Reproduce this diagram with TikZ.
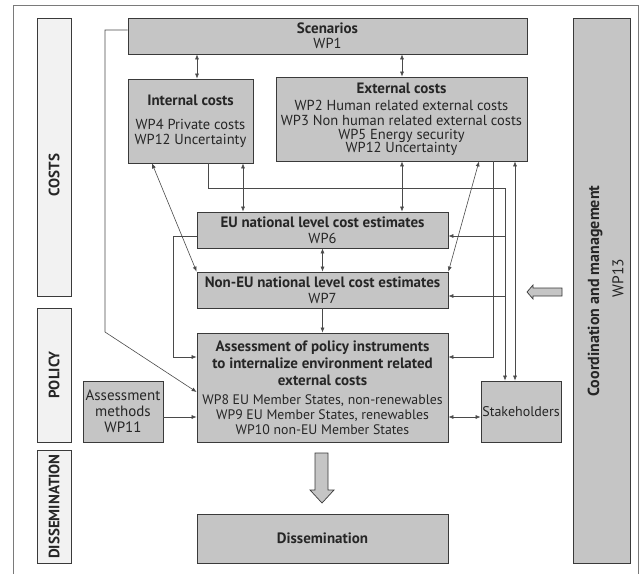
\documentclass[tikz,border=0pt]{standalone}
\usepackage{fontspec}
\setmainfont{PT Sans}
\usetikzlibrary{arrows.meta}
\definecolor{bd}{HTML}{3A3A3A}
\definecolor{boxgray}{HTML}{C5C5C5}
\definecolor{lightbg}{HTML}{F2F2F2}
\definecolor{ln}{HTML}{4A4A4A}
\definecolor{fr}{HTML}{7A7A7A}
\newcommand\fz[2]{\fontsize{#1}{#2}\selectfont}
\newcommand\bt[1]{{\fontsize{15}{15}\selectfont\bfseries #1}}
\newcommand\sm[1]{{\fontsize{13.8}{15}\selectfont #1}}
\begin{document}
\begin{tikzpicture}[x=1pt,y=-1pt,
  box/.style={draw=bd, fill=boxgray, line width=0.8pt, inner sep=0pt, align=center, text=black!85, font=\fz{14.5}{15}},
  lblbox/.style={draw=bd, fill=lightbg, line width=0.8pt, inner sep=0pt},
  conn/.style={draw=ln, line width=0.6pt},
  ah/.tip={Latex[length=5pt,width=4pt]},
  blk/.style={draw=bd, fill=boxgray, line width=0.7pt, line join=miter},
  ttl/.style={font=\fz{15}{15}\bfseries, text=black!85}
]
\useasboundingbox[fill=white] (0,0) rectangle (644,573);
\draw[fr, line width=0.9pt] (13,580) -- (13,5) -- (638,5) -- (638,580);

% side labels
\node[lblbox, minimum width=34pt, minimum height=278pt] (lcost) at (54,157) {};
\node[ttl, rotate=90] (tcost) at (54,175) {COSTS};
\node[lblbox, minimum width=34pt, minimum height=134pt] (lpol) at (54,375) {};
\node[ttl, rotate=90] (tpol) at (54,375) {POLICY};
\node[lblbox, minimum width=34pt, minimum height=113pt] (ldis) at (54,506.5) {};
\node[ttl, rotate=90] (tdis) at (54,506.5) {DISSEMINATION};

% main boxes
\node[box, minimum width=399pt, minimum height=36pt] (scen) at (327.5,36)
  {\bt{Scenarios}\\ WP1};
\node[box, minimum width=125pt, minimum height=84pt] (int) at (190.5,121)
  {\bt{Internal costs}\\[9pt] WP4 Private costs\\ WP12 Uncertainty};
\node[box, minimum width=251pt, minimum height=84pt] (ext) at (401.5,119)
  {\bt{External costs}\\[2pt] WP2 Human related external costs\\[0pt] WP3 Non human related external costs\\[-1.5pt] WP5 Energy security\\[-2pt] WP12 Uncertainty};
\node[box, minimum width=251pt, minimum height=36pt] (eu) at (322.5,230)
  {\bt{EU national level cost estimates}\\[1pt] WP6};
\node[box, minimum width=251pt, minimum height=36pt] (noneu) at (322.5,290)
  {\bt{Non-EU national level cost estimates}\\[1pt] WP7};
\node[box, minimum width=251pt, minimum height=109pt] (assess) at (322.5,387.5)
  {\bt{Assessment of policy instruments}\\[2pt] \bt{to internalize environment related}\\[2pt] \bt{external costs}\\[4pt] \sm{WP8 EU Member States, non-renewables}\\ \sm{WP9 EU Member States, renewables}\\ \sm{WP10 non-EU Member States}};
\node[box, minimum width=80pt, minimum height=61pt, font=\fz{15}{15.5}] (meth) at (123,411.5)
  {Assessment\\ methods\\[1pt] WP11};
\node[box, minimum width=80pt, minimum height=61pt, font=\fz{14}{14}] (stake) at (521,411.5)
  {Stakeholders};
\node[box, minimum width=251pt, minimum height=49pt] (dis) at (322.5,538.5)
  {\bt{Dissemination}};
\node[box, minimum width=57pt, minimum height=545pt] (coord) at (601.5,290.5) {};
\node[rotate=90, font=\fz{16}{16}\bfseries, text=black!85] (tcoord) at (595,291) {Coordination and management};
\node[rotate=90, font=\fz{15.5}{15.5}, text=black!85] (twp13) at (618,278) {WP13};

% guide coordinates
\coordinate (k1) at (105,332);
\coordinate (k2) at (173,357);
\coordinate (b2) at (505,188);
\coordinate (vx152) at (152,0);
\coordinate (vx197) at (197,0);
\coordinate (vx208) at (208,0);
\coordinate (vx243) at (243,0);
\coordinate (vx402) at (402,0);
\coordinate (vx479) at (479,0);
\coordinate (vx493) at (493,0);
\coordinate (vx515) at (515,0);
\coordinate (hy236) at (0,236);
\coordinate (hy296) at (0,296);
\coordinate (hy357) at (0,357);
\coordinate (hy417) at (0,417);

% connectors
\draw[conn,-ah] ([yshift=6pt]scen.west) -| (k1) -- ([yshift=-4.5pt]assess.west);
\draw[conn,ah-ah] (scen.south -| vx197) -- (int.north -| vx197);
\draw[conn,ah-ah] (scen.south -| vx402) -- (ext.north -| vx402);
\draw[conn,ah-ah] (int.south -| vx152) -- (noneu.north west);
\draw[conn,-ah] (int.south -| vx208) |- (b2) -- (stake.north -| b2);
\draw[conn,-ah] (b2 |- hy236) -- (eu.east |- hy236);
\draw[conn,-ah] (b2 |- hy296) -- (noneu.east |- hy296);
\draw[conn,ah-ah] (int.south -| vx243) -- (eu.north -| vx243);
\draw[conn,ah-ah] (ext.south -| vx402) -- (eu.north -| vx402);
\draw[conn,ah-ah] (ext.south -| vx479) -- (noneu.north east);
\draw[conn,-ah] (ext.south -| vx493) |- (assess.east |- hy357);
\draw[conn,ah-ah] (ext.south -| vx515) -- (stake.north -| vx515);
\draw[conn,ah-ah] (eu.south) -- (noneu.north);
\draw[conn,-ah] (noneu.south) -- (assess.north);
\draw[conn,-ah] (eu.west |- hy236) -| (k2) -- (assess.west |- k2);
\draw[conn,-ah] (meth.east |- hy417) -- (assess.west |- hy417);
\draw[conn,ah-ah] (assess.east |- hy417) -- (stake.west |- hy417);

% block arrows
\draw[blk] (315,453) -- (328,453) -- (328,490) -- (334,490) -- (322,503) -- (310,490) -- (315,490) -- cycle;
\draw[blk] (562,288) -- (533,288) -- (533,285) -- (527,292) -- (533,299) -- (533,296) -- (562,296) -- cycle;
\end{tikzpicture}
\end{document}
